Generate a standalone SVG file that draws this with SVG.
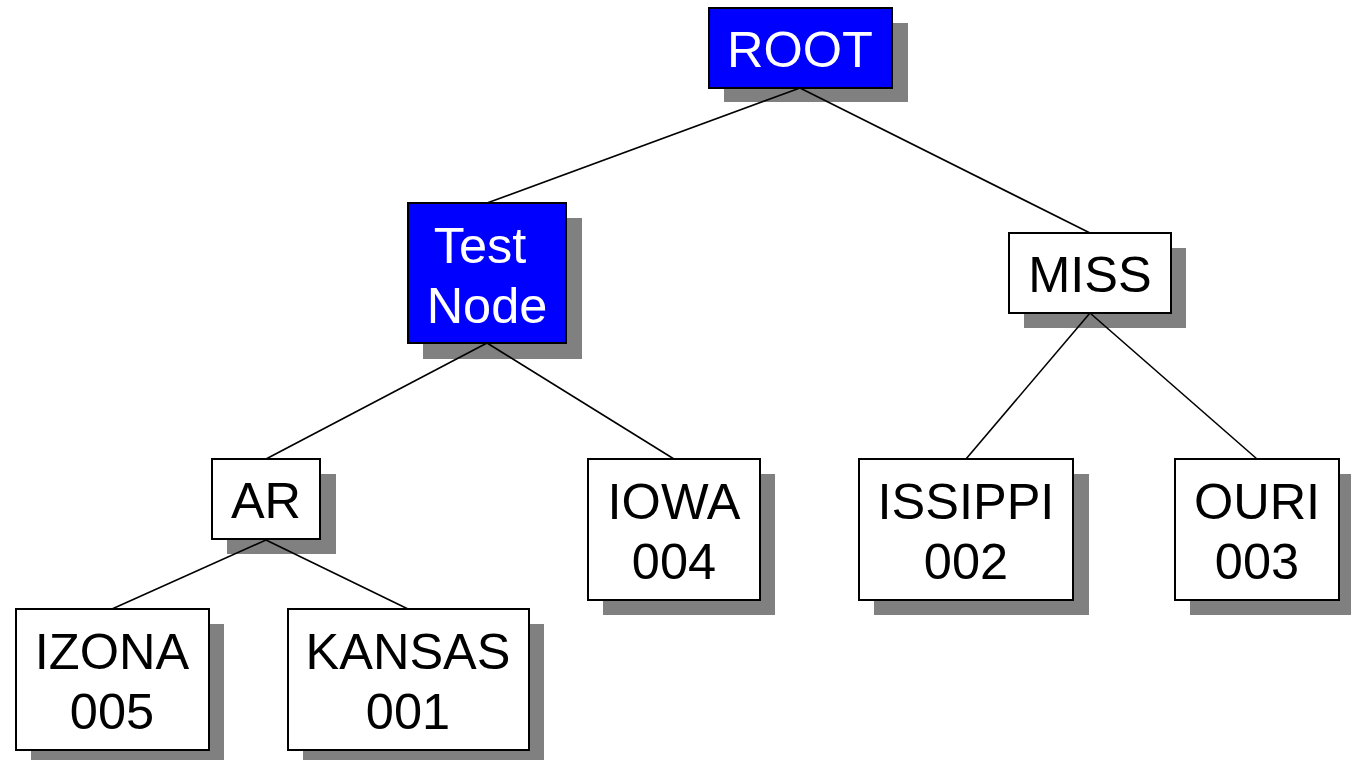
<svg xmlns="http://www.w3.org/2000/svg" width="1351" height="760" viewBox="0 0 1351 760">
  <style>
    .shadow { fill: #808080; }
    .box { fill: #ffffff; stroke: #000000; stroke-width: 2; }
    .box.sel { fill: #0000ff; }
    .label { font-family: "Liberation Sans", Arial, sans-serif; font-size: 50.5px; text-anchor: middle; fill: #000000; }
    .label.sel { fill: #ffffff; }
    .edge { stroke: #000000; stroke-width: 1.6; fill: none; }
  </style>
  <rect width="1351" height="760" fill="#ffffff"/>

  <!-- drop shadows sit underneath everything else -->
  <g id="shadows">
    <rect class="shadow" x="724" y="23" width="184" height="79"/>
    <rect class="shadow" x="423" y="218" width="159" height="141"/>
    <rect class="shadow" x="1024" y="248" width="162" height="80"/>
    <rect class="shadow" x="227" y="474" width="109" height="80"/>
    <rect class="shadow" x="603" y="474" width="172" height="141"/>
    <rect class="shadow" x="874" y="474" width="215" height="141"/>
    <rect class="shadow" x="1190" y="474" width="164" height="141"/>
    <rect class="shadow" x="31" y="624" width="193" height="141"/>
    <rect class="shadow" x="303" y="624" width="241" height="141"/>
  </g>

  <!-- tree edges: parent bottom-centre to child top-centre -->
  <g id="connectors">
    <line class="edge" x1="800" y1="88" x2="487" y2="203"/>
    <line class="edge" x1="800" y1="88" x2="1090" y2="233"/>
    <line class="edge" x1="487" y1="343" x2="266" y2="459"/>
    <line class="edge" x1="487" y1="343" x2="674" y2="459"/>
    <line class="edge" x1="1090" y1="313" x2="966" y2="459"/>
    <line class="edge" x1="1090" y1="313" x2="1257" y2="459"/>
    <line class="edge" x1="266" y1="540" x2="112" y2="609"/>
    <line class="edge" x1="266" y1="540" x2="408" y2="609"/>
  </g>

  <g id="node-root">
    <rect class="box sel" x="709" y="8" width="183" height="80"/>
    <text class="label sel" x="800" y="67">ROOT</text>
  </g>

  <g id="node-test">
    <rect class="box sel" x="408" y="203" width="158" height="140"/>
    <text class="label sel" x="480" y="263">Test</text>
    <text class="label sel" x="487" y="323">Node</text>
  </g>

  <g id="node-miss">
    <rect class="box" x="1009" y="233" width="162" height="80"/>
    <text class="label" x="1090" y="292">MISS</text>
  </g>

  <g id="node-ar">
    <rect class="box" x="212" y="459" width="108" height="80"/>
    <text class="label" x="266" y="518">AR</text>
  </g>

  <g id="node-iowa">
    <rect class="box" x="588" y="459" width="172" height="141"/>
    <text class="label" x="674" y="519">IOWA</text>
    <text class="label" x="674" y="579">004</text>
  </g>

  <g id="node-issippi">
    <rect class="box" x="859" y="459" width="214" height="141"/>
    <text class="label" x="966" y="519">ISSIPPI</text>
    <text class="label" x="966" y="579">002</text>
  </g>

  <g id="node-ouri">
    <rect class="box" x="1175" y="459" width="164" height="141"/>
    <text class="label" x="1257" y="519">OURI</text>
    <text class="label" x="1257" y="579">003</text>
  </g>

  <g id="node-izona">
    <rect class="box" x="16" y="609" width="193" height="141"/>
    <text class="label" x="112" y="669">IZONA</text>
    <text class="label" x="112" y="729">005</text>
  </g>

  <g id="node-kansas">
    <rect class="box" x="288" y="609" width="241" height="141"/>
    <text class="label" x="408" y="669">KANSAS</text>
    <text class="label" x="408" y="729">001</text>
  </g>
</svg>
